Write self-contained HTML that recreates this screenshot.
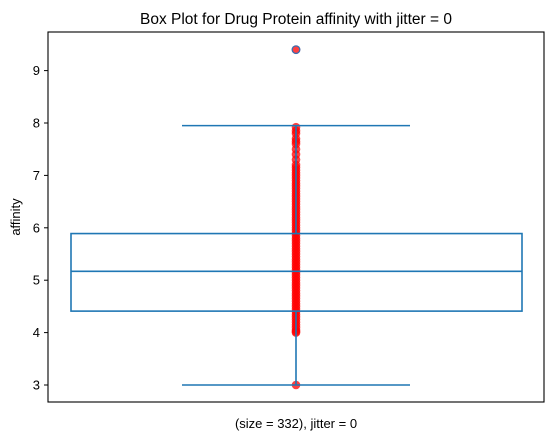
<!DOCTYPE html>
<html><head><meta charset="utf-8"><style>
body{margin:0;background:#fff;}
svg{display:block;font-family:"Liberation Sans","DejaVu Sans",sans-serif;}
</style></head><body>
<svg width="554" height="441" viewBox="0 0 554 441" id="chart">
<text x="296" y="24" font-size="15.5" text-anchor="middle">Box Plot for Drug Protein affinity with jitter = 0</text>
<g id="yaxis"></g>
<g id="pts"></g>
<g id="box"></g>
<rect x="48" y="32" width="496" height="370" fill="none" stroke="#000" stroke-width="1.1"/>
<text x="20" y="217" font-size="13" text-anchor="middle" transform="rotate(-90 20 217)">affinity</text>
<text x="296" y="428" font-size="13" text-anchor="middle">(size = 332), jitter = 0</text>
</svg>
<script>
const yTicks=[3,4,5,6,7,8,9];
const stats={q1:4.41,median:5.17,q3:5.89,lowWhisker:3.0,highWhisker:7.95};
const outliers=[9.4];
const values=[3.0,4.0,4.02,4.05,4.1,4.15,4.2,4.25,4.3,4.35,4.4,4.45,4.5,4.55,4.6,4.65,4.7,4.75,4.8,4.85,4.9,4.95,5.0,5.05,5.1,5.15,5.2,5.25,5.3,5.35,5.4,5.45,5.5,5.55,5.6,5.65,5.7,5.75,5.8,5.85,5.9,5.95,6.0,6.05,6.1,6.15,6.2,6.25,6.3,6.35,6.4,6.45,6.5,6.55,6.6,6.65,6.7,6.75,6.8,6.85,6.9,6.95,7.0,7.05,7.1,7.15,7.2,7.3,7.4,7.5,7.6,7.65,7.7,7.8,7.85,7.92,9.4];
const NS='http://www.w3.org/2000/svg';
const y=v=>385-(v-3)*52.4;
const cx=296;
function mk(tag,attrs,parent){const e=document.createElementNS(NS,tag);for(const k in attrs)e.setAttribute(k,attrs[k]);parent.appendChild(e);return e;}
const ya=document.getElementById('yaxis');
yTicks.forEach(t=>{
 const l=mk('line',{x1:44,x2:48,y1:y(t),y2:y(t),stroke:'#000'},ya);
 
 
 const tx=mk('text',{x:40,y:y(t)+4.5,'font-size':13,'text-anchor':'end'},ya);
 tx.textContent=t;
 
 
});
const pg=document.getElementById('pts');
values.forEach(v=>{
 const c=mk('circle',{cx:cx,cy:y(v),r:4.3,fill:'rgba(255,0,0,0.75)'},pg);
 
 
});
const bg=document.getElementById('box');
const col='#1f77b4';
outliers.forEach(v=>{
 const c=mk('circle',{cx:cx,cy:y(v),r:3.8,fill:'none',stroke:'#3a6fb0','stroke-width':1.3},bg);
 
 
});
const r=mk('rect',{x:71,y:y(stats.q3),width:451,height:y(stats.q1)-y(stats.q3),fill:'none',stroke:col,'stroke-width':1.6},bg);


const lines=[
 ['median-line',71,522,y(stats.median),y(stats.median)],
 ['upper-whisker',cx,cx,y(stats.q3),y(stats.highWhisker)],
 ['lower-whisker',cx,cx,y(stats.q1),y(stats.lowWhisker)],
 ['upper-cap',182,410,y(stats.highWhisker),y(stats.highWhisker)],
 ['lower-cap',182,410,y(stats.lowWhisker),y(stats.lowWhisker)]];
lines.forEach(([n,x1,x2,y1,y2])=>{
 const l=mk('line',{x1,x2,y1,y2,stroke:col,'stroke-width':1.6},bg);
 
 
});
</script>
</body></html>
